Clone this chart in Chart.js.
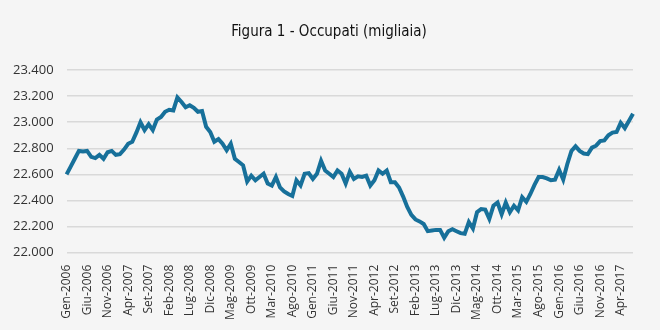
<!DOCTYPE html>
<html>
<head>
<meta charset="utf-8">
<script src="https://cdn.jsdelivr.net/npm/chart.js@4"></script>
<style>
  html, body { margin: 0; padding: 0; background: #f5f5f5; }
  #wrap { width: 660px; height: 330px; }
</style>
</head>
<body>
<div id="wrap"><canvas id="chart" width="660" height="330"></canvas></div>
<script>
// monthly data, Gen-2006 .. Lug-2017 (thousands)
const titleText = 'Figura 1 - Occupati (migliaia)';
const months = ['Gen', 'Feb', 'Mar', 'Apr', 'Mag', 'Giu', 'Lug', 'Ago', 'Set', 'Ott', 'Nov', 'Dic'];
const startYear = 2006;
const occupati = [
  22600, 22660, 22720, 22780, 22775, 22780, 22735, 22725, 22750, 22720, 22770, 22780,
  22750, 22755, 22790, 22835, 22850, 22920, 23000, 22940, 22985, 22940, 23020, 23040,
  23080, 23095, 23090, 23190, 23155, 23115, 23130, 23110, 23080, 23085, 22965, 22925,
  22850, 22870, 22835, 22785, 22835, 22720, 22695, 22670, 22545, 22590, 22555, 22580,
  22605, 22530, 22515, 22580, 22500, 22470, 22450, 22435, 22555, 22515, 22605, 22610,
  22565, 22605, 22705, 22630, 22605, 22580, 22630, 22605, 22530, 22620, 22565, 22585,
  22580, 22590, 22515, 22555, 22630, 22605, 22630, 22540, 22540, 22500, 22430, 22350,
  22290, 22255, 22240, 22220, 22165, 22170, 22175, 22175, 22115, 22165, 22180, 22165,
  22150, 22145, 22235, 22185, 22310, 22335, 22330, 22260, 22360, 22385, 22295, 22385,
  22310, 22360, 22325, 22425, 22390, 22450, 22520, 22580, 22580, 22570, 22555, 22560,
  22635, 22560, 22680, 22780, 22815, 22780, 22760, 22755, 22805, 22820, 22855, 22860,
  22900, 22920, 22925, 22995, 22955, 23010, 23065
];
const yMin = 22000;
const yMax = 23400;
const yStep = 200;

const labels = occupati.map((v, i) => months[i % 12] + '-' + (startYear + Math.floor(i / 12)));

function fmt(v) {
  return String(v).replace(/\B(?=(\d{3})+(?!\d))/g, '.');
}

// title drawn centred on the page (the built-in one centres on the padded box)
const titlePlugin = {
  id: 'pageTitle',
  afterDraw(chart) {
    const c = chart.ctx;
    c.save();
    c.font = "15px 'DejaVu Sans Condensed', 'Liberation Sans Narrow', sans-serif";
    c.fillStyle = '#111';
    c.textAlign = 'center';
    c.textBaseline = 'middle';
    c.fillText(titleText, chart.width / 2 - 1, 32);
    c.restore();
  }
};

const ctx = document.getElementById('chart').getContext('2d');
new Chart(ctx, {
  type: 'line',
  data: {
    labels: labels,
    datasets: [{
      label: 'Occupati',
      data: occupati,
      borderColor: '#17709a',
      borderWidth: 4,
      pointRadius: 0,
      tension: 0,
      fill: false
    }]
  },
  plugins: [titlePlugin],
  options: {
    responsive: false,
    animation: false,
    layout: { padding: { left: 0, right: 27, top: 70, bottom: 6 } },
    plugins: {
      legend: { display: false },
      tooltip: { enabled: false },
      title: { display: false }
    },
    scales: {
      x: {
        offset: false,
        grid: { display: false },
        border: { display: false },
        ticks: {
          autoSkip: false,
          maxRotation: 90,
          minRotation: 90,
          padding: 4,
          color: '#333',
          font: { family: "'Open Sans', sans-serif", size: 12 },
          callback: function (val, i) { return i % 5 === 0 ? labels[i] : ''; }
        }
      },
      y: {
        min: yMin,
        max: yMax,
        border: { display: false },
        grid: { color: '#d9d9d9', lineWidth: 1.5, drawTicks: false },
        ticks: {
          stepSize: yStep,
          padding: 13,
          color: '#333',
          font: { family: "'Open Sans', sans-serif", size: 13 },
          callback: v => fmt(v)
        }
      }
    }
  }
});
</script>
</body>
</html>
